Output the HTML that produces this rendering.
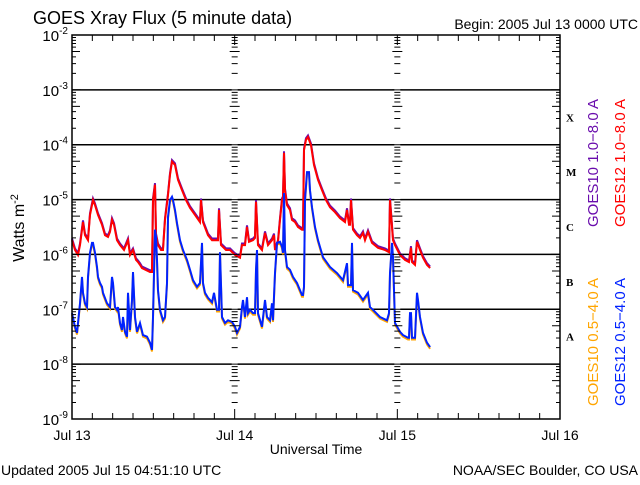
<!DOCTYPE html>
<html><head><meta charset="utf-8"><style>
body{margin:0;background:#fff;width:640px;height:480px;overflow:hidden}
svg text{font-family:"Liberation Sans","DejaVu Sans",sans-serif}
</style></head><body>
<svg id="chart" width="640" height="480" xmlns="http://www.w3.org/2000/svg">
<rect width="640" height="480" fill="#fff"/>
<text x="33" y="24" font-size="18">GOES Xray Flux (5 minute data)</text>
<text x="638" y="29" font-size="14" text-anchor="end">Begin:  2005 Jul 13 0000 UTC</text>
<text transform="translate(24,228) rotate(-90)" font-size="16" text-anchor="middle">Watts m<tspan dy="-6" font-size="11">-2</tspan></text>
<text x="316" y="454" font-size="14" text-anchor="middle">Universal Time</text>
<text x="1" y="475" font-size="14">Updated 2005 Jul 15 04:51:10 UTC</text>
<text x="638" y="475" font-size="14" text-anchor="end">NOAA/SEC Boulder, CO USA</text>
<g id="grid"></g><g id="series"></g><g id="axes"></g>
<text transform="translate(598,163) rotate(-90)" font-size="15" fill="#6a0dad" text-anchor="middle">GOES10 1.0−8.0 A</text>
<text transform="translate(625,163) rotate(-90)" font-size="15" fill="#ff0000" text-anchor="middle">GOES12 1.0−8.0 A</text>
<text transform="translate(598,342) rotate(-90)" font-size="15" fill="#ffa500" text-anchor="middle">GOES10 0.5−4.0 A</text>
<text transform="translate(625,342) rotate(-90)" font-size="15" fill="#0022ff" text-anchor="middle">GOES12 0.5−4.0 A</text>
</svg>
<script>
const dayLabels=["Jul 13","Jul 14","Jul 15","Jul 16"];
const yExponents=[-2,-3,-4,-5,-6,-7,-8,-9];
const flareClasses=["X","M","C","B","A"];
const flareClassExp=[-3.5,-4.5,-5.5,-6.5,-7.5];
const longHours=[0,0.44,0.89,1.18,1.62,1.92,2.36,2.66,3.10,3.39,3.84,4.43,4.87,5.31,5.61,5.90,6.20,6.64,7.08,7.67,8.26,8.56,9.00,9.44,9.74,10.03,10.33,11.51,11.80,11.95,12.25,12.39,12.69,13.13,13.43,13.72,14.16,14.46,14.75,15.20,15.64,16.23,16.82,17.41,18.15,18.89,19.03,19.33,19.48,20.07,20.66,21.25,21.54,21.69,21.98,22.72,23.31,24.05,24.79,25.08,25.52,25.82,26.11,26.71,27.00,27.15,27.44,28.03,28.47,28.92,29.51,29.80,29.95,30.39,30.69,30.98,31.13,31.28,31.43,31.72,32.16,32.46,32.90,33.34,33.93,34.08,34.23,34.52,34.82,35.26,35.70,36.30,36.89,37.48,38.07,38.81,39.54,40.28,40.57,40.87,41.01,41.16,41.46,42.05,42.49,42.93,43.23,43.67,44.26,45.15,46.18,46.77,46.92,47.36,47.66,48.39,49.13,49.72,50.02,50.16,50.61,50.90,51.34,51.79,52.38,52.83];
const longLogFlux=[-5.74,-5.92,-6.01,-5.83,-5.41,-5.65,-5.74,-5.28,-5.01,-5.10,-5.28,-5.46,-5.65,-5.68,-5.59,-5.37,-5.46,-5.74,-5.83,-5.92,-5.74,-6.01,-5.92,-6.10,-6.14,-6.19,-6.25,-6.32,-6.32,-5.01,-4.73,-5.65,-5.83,-5.92,-5.92,-5.37,-4.92,-4.55,-4.31,-4.37,-4.64,-4.83,-5.01,-5.15,-5.28,-5.41,-5.01,-5.41,-5.46,-5.65,-5.74,-5.74,-5.74,-5.19,-5.83,-5.92,-5.92,-6.01,-6.06,-5.83,-5.83,-5.50,-5.77,-5.74,-5.70,-5.04,-5.83,-5.92,-5.61,-5.83,-5.74,-5.65,-5.92,-5.77,-5.37,-5.01,-4.97,-4.15,-4.83,-5.10,-5.19,-5.37,-5.41,-5.50,-5.55,-5.55,-4.10,-3.91,-3.86,-4.01,-4.37,-4.64,-4.83,-5.01,-5.14,-5.23,-5.34,-5.41,-5.19,-5.46,-5.46,-5.01,-5.55,-5.65,-5.70,-5.61,-5.74,-5.59,-5.79,-5.88,-5.92,-5.96,-5.01,-5.74,-5.83,-6.01,-6.10,-6.14,-5.88,-6.14,-6.19,-5.77,-5.92,-6.06,-6.19,-6.25];
const shortHours=[0,0.44,0.74,0.89,1.18,1.48,1.62,1.92,2.21,2.36,2.66,2.95,3.10,3.39,3.69,3.84,4.13,4.43,4.57,5.16,5.61,5.90,6.05,6.34,6.64,6.79,7.08,7.38,7.52,7.82,8.11,8.26,8.56,8.85,9.00,9.30,9.59,10.03,10.48,11.07,11.51,11.80,11.95,12.25,12.39,12.54,12.69,12.98,13.43,13.72,14.02,14.16,14.46,14.75,14.90,15.20,15.49,15.93,16.38,16.97,17.41,17.85,18.44,18.89,19.18,19.33,19.62,20.07,20.66,20.95,21.39,21.69,21.84,22.13,22.57,23.02,23.61,24.05,24.34,24.79,25.08,25.23,25.52,25.82,25.97,26.26,26.71,27.00,27.15,27.29,27.44,28.03,28.47,28.77,29.21,29.51,29.66,29.95,30.25,30.69,30.98,31.13,31.28,31.43,31.72,32.16,32.61,33.20,33.93,34.08,34.23,34.38,34.67,34.97,35.11,35.41,35.85,36.30,37.03,38.07,39.10,39.98,40.57,40.72,41.16,41.31,41.46,42.20,42.93,43.67,43.97,44.41,45.44,46.48,46.77,46.92,47.21,47.36,47.66,48.39,48.84,49.57,49.72,49.87,50.02,50.16,50.61,50.90,51.05,51.34,51.79,52.38,52.83];
const shortLogFlux=[-7.07,-7.32,-7.43,-7.25,-6.89,-6.41,-6.70,-6.89,-6.96,-6.41,-5.97,-5.79,-5.79,-5.97,-6.23,-6.41,-6.52,-6.59,-6.70,-6.89,-6.96,-6.41,-6.52,-6.96,-7.01,-6.96,-7.25,-7.38,-7.14,-7.41,-7.50,-6.70,-7.38,-6.83,-6.32,-7.14,-7.41,-7.25,-7.47,-7.50,-7.61,-7.74,-7.14,-5.55,-5.68,-6.10,-6.65,-7.01,-7.20,-7.14,-6.52,-5.32,-5.01,-4.95,-5.01,-5.19,-5.43,-5.74,-5.92,-6.10,-6.28,-6.47,-6.59,-6.52,-5.79,-6.52,-6.70,-6.79,-6.87,-6.70,-7.01,-7.01,-5.96,-7.14,-7.25,-7.20,-7.23,-7.32,-7.43,-7.32,-6.96,-6.83,-7.14,-6.78,-7.07,-7.01,-7.07,-7.07,-6.28,-5.92,-7.07,-7.32,-6.83,-7.14,-7.20,-6.89,-7.20,-6.34,-5.79,-5.77,-5.86,-5.97,-4.88,-5.92,-6.23,-6.28,-6.41,-6.52,-6.74,-6.74,-6.59,-5.01,-4.50,-4.50,-4.83,-5.14,-5.50,-5.74,-6.05,-6.23,-6.34,-6.47,-6.16,-6.56,-6.56,-5.79,-6.65,-6.70,-6.83,-6.70,-6.96,-7.01,-7.14,-7.20,-7.07,-6.34,-5.79,-6.05,-7.25,-7.41,-7.47,-7.52,-7.52,-7.07,-7.07,-7.52,-7.52,-6.70,-6.83,-7.14,-7.43,-7.61,-7.69];
const goes10LongOffset=0.03, goes10ShortOffset=0.03;

const L=72,R=560,T=35,B=419;
const x=h=>L+(R-L)*h/72;
const y=e=>T+(B-T)*(-2-e)/7;
const NS="http://www.w3.org/2000/svg";
function mk(tag,attrs,parent){const e=document.createElementNS(NS,tag);for(const k in attrs)e.setAttribute(k,attrs[k]);parent.appendChild(e);return e;}
const grid=document.getElementById('grid'),axes=document.getElementById('axes'),series=document.getElementById('series');
const d1=x(24),d2=x(48);
yExponents.forEach(ex=>{
  if(ex===-2||ex===-9)return;
  const yy=y(ex);
  const ln=mk('path',{d:`M${L} ${yy}H${d1-3}M${d1+3} ${yy}H${d2-3}M${d2+3} ${yy}H${R}`,stroke:'#000','stroke-width':1.5,fill:'none'},grid);
  
  
});
const tickXs=[L,d1,d2,R];
let tp='';
yExponents.forEach(ex=>{
  tickXs.forEach((tx,j)=>{
    if(j===0)tp+=`M${tx} ${y(ex)}h9`;else if(j===3)tp+=`M${tx} ${y(ex)}h-9`;else tp+=`M${tx-5} ${y(ex)}h10`;
  });
  if(ex>-9){for(let m=2;m<10;m++){const yy=y(ex-1+Math.log10(m));
    tickXs.forEach((tx,j)=>{const len=m===5?8:4;
      if(j===0)tp+=`M${tx} ${yy}h${len}`;else if(j===3)tp+=`M${tx} ${yy}h-${len}`;else tp+=`M${tx-len/2-1} ${yy}h${len+2}`;});}}
});
for(let h=0;h<=72;h+=3){const xx=x(h);const len=h%24===0?10:6;tp+=`M${xx} ${B}v-${len}M${xx} ${T}v${len}`;}
const tk=mk('path',{d:tp,stroke:'#000','stroke-width':1,fill:'none'},axes);


const fr=mk('rect',{x:L,y:T,width:R-L,height:B-T,fill:'none',stroke:'#000','stroke-width':1.5},axes);


yExponents.forEach(ex=>{
  const t=mk('text',{x:L-4,y:y(ex)+6,'font-size':15,'text-anchor':'end'},axes);
  
  
  t.textContent='10';
  const s=mk('tspan',{dy:-7,'font-size':10},t);s.textContent=String(ex);
});
dayLabels.forEach((d,i)=>{
  const t=mk('text',{x:x(i*24),y:440,'font-size':14,'text-anchor':'middle'},axes);
  
  
  t.textContent=d;
});
flareClasses.forEach((c,i)=>{
  const t=mk('text',{x:566,y:y(flareClassExp[i])+4,'font-size':11,'font-weight':'bold'},axes);
  t.setAttribute('style','font-family:"Liberation Serif",serif');
  
  
  t.textContent=c;
});
function draw(hours,vals,off,color,name){
  let d='';hours.forEach((h,i)=>{d+=(i?'L':'M')+x(h).toFixed(1)+' '+y(vals[i]+off).toFixed(1);});
  const p=mk('path',{d:d,fill:'none',stroke:color,'stroke-width':2,'stroke-linejoin':'miter'},series);
  
  
}
draw(longHours,longLogFlux,goes10LongOffset,'#6a0dad','series-goes10-long');
draw(shortHours,shortLogFlux,-goes10ShortOffset,'#ffa500','series-goes10-short');
draw(longHours,longLogFlux,0,'#ff0000','series-goes12-long');
draw(shortHours,shortLogFlux,0,'#0022ff','series-goes12-short');
</script>
</body></html>
